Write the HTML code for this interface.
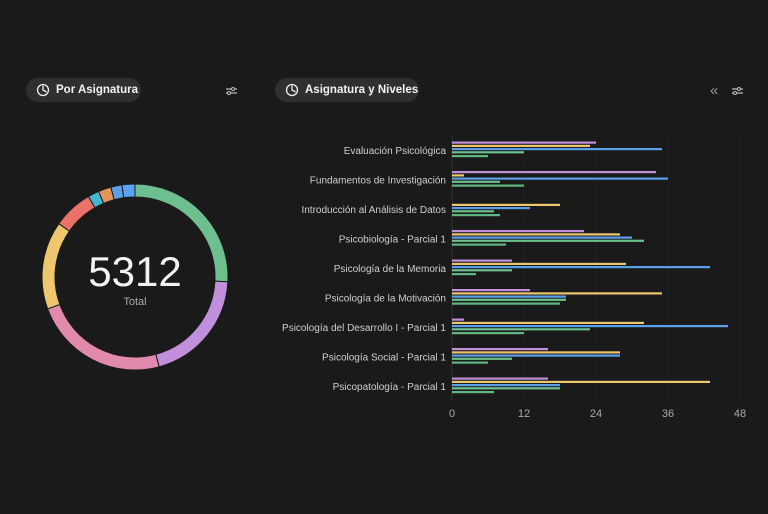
<!DOCTYPE html>
<html><head><meta charset="utf-8"><style>
body{margin:0;width:768px;height:514px;background:#1a1a1a;font-family:"Liberation Sans",sans-serif;overflow:hidden;position:relative}
.pill{position:absolute;height:24px;border-radius:12px;background:#2f2f2f;color:#f2f2f2;font-size:11.5px;font-weight:bold;display:flex;align-items:center;padding:0 8px 0 10px;box-sizing:border-box;white-space:nowrap}
.pill svg{margin-right:6px;flex:none}
.ic{position:absolute}
</style></head><body>
<div class="pill" style="left:26px;top:78px;width:115px">
<svg width="14" height="14" viewBox="0 0 14 14"><circle cx="7" cy="7" r="5.5" fill="none" stroke="#eee" stroke-width="1.3"/><path d="M7 2.5V7L10.5 9" fill="none" stroke="#eee" stroke-width="1.3"/></svg>Por Asignatura</div>
<div class="pill" style="left:275px;top:78px;width:144px">
<svg width="14" height="14" viewBox="0 0 14 14"><circle cx="7" cy="7" r="5.5" fill="none" stroke="#eee" stroke-width="1.3"/><path d="M7 2.5V7L10.5 9" fill="none" stroke="#eee" stroke-width="1.3"/></svg>Asignatura y Niveles</div>
<svg class="ic" style="left:225px;top:86px" width="13" height="10"><path d="M1 3H12M1 7H12" stroke="#bbb" stroke-width="1.2"/><circle cx="8" cy="3" r="1.5" fill="#1a1a1a" stroke="#bbb"/><circle cx="4" cy="7" r="1.5" fill="#1a1a1a" stroke="#bbb"/></svg>
<svg class="ic" style="left:731px;top:86px" width="13" height="10"><path d="M1 3H12M1 7H12" stroke="#bbb" stroke-width="1.2"/><circle cx="8" cy="3" r="1.5" fill="#1a1a1a" stroke="#bbb"/><circle cx="4" cy="7" r="1.5" fill="#1a1a1a" stroke="#bbb"/></svg>
<div class="ic" style="left:710px;top:82px;color:#999;font-size:15px">«</div>
<svg id="donut" style="position:absolute;left:0;top:0" width="270" height="514"></svg>
<svg id="bars" style="position:absolute;left:0;top:0" width="768" height="514"></svg>
<script>
const sliceValues=[1372,1062,1254,812,369,103,118,103,119];
const sliceColors=['#6dbf8f','#c18fdc','#e289ae','#edc66e','#eb7268','#45b8cf','#e3955a','#5a9fe8','#5aa3ee'];
const categories=['Evaluación Psicológica','Fundamentos de Investigación','Introducción al Análisis de Datos','Psicobiología - Parcial 1','Psicología de la Memoria','Psicología de la Motivación','Psicología del Desarrollo I - Parcial 1','Psicología Social - Parcial 1','Psicopatología - Parcial 1'];
const sPurple=[24,34,0,22,10,13,2,16,16];
const sYellow=[23,2,18,28,29,35,32,28,43];
const sBlue=[35,36,13,30,43,19,46,28,18];
const sTeal=[12,8,7,32,10,19,23,10,18];
const sGreen=[6,12,8,9,4,18,12,6,7];
const ticks=[0,12,24,36,48];
const NS='http://www.w3.org/2000/svg';
function mk(p,t,a){const e=document.createElementNS(NS,t);for(const k in a)e.setAttribute(k,a[k]);p.appendChild(e);return e;}
const dSvg=document.getElementById('donut');
const cx=135,cy=277,R=93,r=80;const total=sliceValues.reduce((a,b)=>a+b,0);
let ang=0;
sliceValues.forEach((v,i)=>{const a0=ang,a1=ang+v/total*2*Math.PI;ang=a1;
const p=(a,rr)=>[cx+rr*Math.sin(a),cy-rr*Math.cos(a)];const lg=(a1-a0)>Math.PI?1:0;
const [px0,py0]=p(a0,R),[px1,py1]=p(a1,R),[px2,py2]=p(a1,r),[px3,py3]=p(a0,r);
const e=mk(dSvg,'path',{d:`M${px0} ${py0}A${R} ${R} 0 ${lg} 1 ${px1} ${py1}L${px2} ${py2}A${r} ${r} 0 ${lg} 0 ${px3} ${py3}Z`,fill:sliceColors[i],stroke:'#1a1a1a','stroke-width':1});

});
const tt=mk(dSvg,'text',{x:cx,y:cy+9,'text-anchor':'middle','font-size':42,fill:'#f2f2f2','font-family':'Liberation Sans'});tt.textContent=total;


const tl=mk(dSvg,'text',{x:cx,y:cy+28,'text-anchor':'middle','font-size':11,fill:'#aaa','font-family':'Liberation Sans'});tl.textContent='Total';


const bSvg=document.getElementById('bars');
const xBase=452,xs=6,topY=150,step=29.5;
const X=v=>xBase+v*xs;
ticks.forEach(t=>{if(t>0){const g=mk(bSvg,'line',{x1:X(t),x2:X(t),y1:136,y2:400,stroke:'#2c2c2c','stroke-dasharray':'1 2'});}
const l=mk(bSvg,'text',{x:X(t),y:417,'text-anchor':'middle','font-size':11,fill:'#aaa','font-family':'Liberation Sans'});l.textContent=t;

});
const ax=mk(bSvg,'line',{x1:xBase,x2:xBase,y1:136,y2:400,stroke:'#333'});


const series=[[sPurple,'#c18fdc'],[sYellow,'#edc66e'],[sBlue,'#5a9fe8'],[sTeal,'#6dbf8f'],[sGreen,'#5fb87f']];
const offs=[-7.5,-4.2,-1,2.2,6];
categories.forEach((c,i)=>{const yc=topY+i*step;
const t=mk(bSvg,'text',{x:446,y:yc+4,'text-anchor':'end','font-size':10,fill:'#cfcfcf','font-family':'Liberation Sans'});t.textContent=c;


series.forEach((s,j)=>{const v=s[0][i];if(v<=0)return;
const rct=mk(bSvg,'rect',{x:xBase,y:yc+offs[j]-1,width:X(v)-xBase,height:2.2,fill:s[1]});

});});
</script>
</body></html>
